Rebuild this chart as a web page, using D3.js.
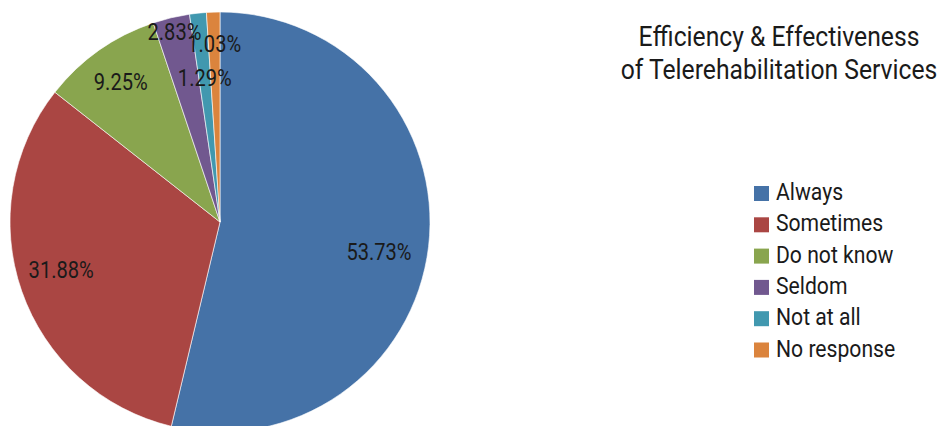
<!DOCTYPE html>
<html>
<head>
<meta charset="utf-8">
<script src="https://cdn.jsdelivr.net/npm/d3@7"></script>
<style>
	body { margin: 0; background: #fff; }
	svg text { font-family: Roboto, sans-serif; font-weight: 400; fill: #1a1a1a; }
</style>
</head>
<body>
<div id="chart"></div>
<script>
// DATA
const categories = ["Always", "Sometimes", "Do not know", "Seldom", "Not at all", "No response"];
const values = [53.73, 31.88, 9.25, 2.83, 1.29, 1.03];
const titleLines = ["Efficiency & Effectiveness", "of Telerehabilitation Services"];

const colors = ["#4572A7", "#AA4643", "#89A54E", "#71588F", "#4198AF", "#DB843D"];
// label placement: distance from centre (fraction of radius) and angle nudge (deg)
const labelRadius = [0.77, 0.79, 0.82, 0.933, 0.69, 0.85];
const labelNudge = [3.8, 2.4, 0, 0, 0, 0];

// SVG DIMENSIONS
const width = 942, height = 426;
const svg = d3.select("#chart").append("svg")
	.attr("width", width)
	.attr("height", height);

const cx = 220, cy = 222, R = 210;

// PIE
const pie = d3.pie().sort(null).value(d => d);
const arcs = pie(values);
const arc = d3.arc().innerRadius(0).outerRadius(R);

const g = svg.append("g").attr("transform", `translate(${cx},${cy})`);
g.selectAll("path")
	.data(arcs)
	.enter()
	.append("path")
		.attr("d", arc)
		.attr("fill", (d, i) => colors[i])
		.attr("stroke", "#fff")
		.attr("stroke-width", 0.6);

// labels (no condensed font installed -> squeeze Roboto horizontally)
g.selectAll("g.label")
	.data(arcs)
	.enter()
	.append("g")
		.attr("class", "label")
		.attr("transform", (d, i) => {
			const a = (d.startAngle + d.endAngle) / 2 + labelNudge[i] * Math.PI / 180;
			const r = R * labelRadius[i];
			return `translate(${r * Math.sin(a)},${-r * Math.cos(a)})`;
		})
	.append("text")
		.attr("transform", "scale(0.855,1)")
		.attr("text-anchor", "middle")
		.attr("dy", "0.36em")
		.style("font-size", "23.5px")
		.text(d => d.data.toFixed(2) + "%");

// TITLE
svg.append("g")
	.selectAll("g")
	.data(titleLines)
	.enter()
	.append("g")
		.attr("transform", (d, i) => `translate(779,${46 + i * 33})`)
	.append("text")
		.attr("transform", "scale(0.915,1)")
		.attr("text-anchor", "middle")
		.style("font-size", "27px")
		.text(d => d);

// LEGEND
const legend = svg.append("g").attr("transform", "translate(754,186)");
const row = legend.selectAll("g")
	.data(categories)
	.enter()
	.append("g")
		.attr("transform", (d, i) => `translate(0,${i * 31.3})`);
row.append("rect")
	.attr("width", 15)
	.attr("height", 15)
	.attr("fill", (d, i) => colors[i]);
row.append("g")
	.attr("transform", "translate(22,14)")
	.append("text")
		.attr("transform", "scale(0.9,1)")
		.style("font-size", "23.5px")
		.text(d => d);
</script>
</body>
</html>
